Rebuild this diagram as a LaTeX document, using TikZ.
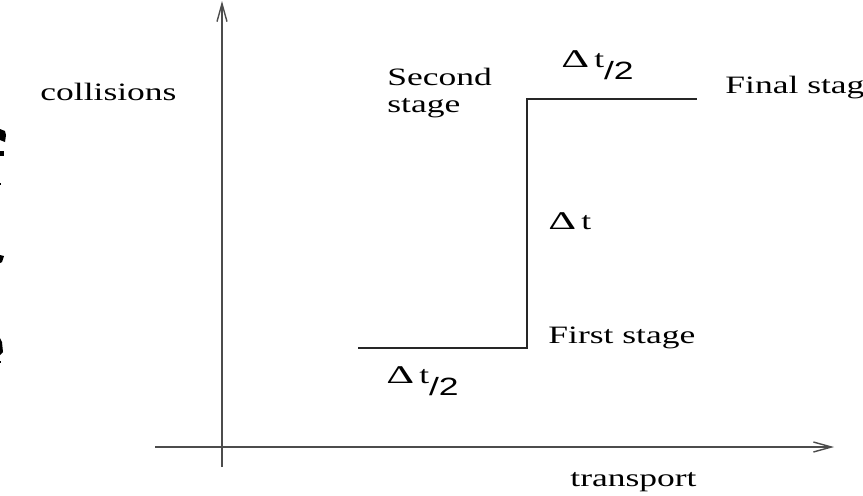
\documentclass[tikz,border=0pt]{standalone}
\usepackage{fontspec}
\setmainfont{Liberation Serif}[FakeStretch=1.42]
\newfontfamily\subsans{Liberation Sans}[FakeStretch=1.42]
\usetikzlibrary{arrows.meta}
\begin{document}
\begin{tikzpicture}[x=0.5pt,y=-0.5pt,
  lbl/.style={anchor=base west,inner sep=0pt,font=\fontsize{12.5}{14}\selectfont},
  axis/.style={draw=black!70,line width=0.7pt,-{Straight Barb[length=9pt,width=5pt]}},
  stepline/.style={draw=black!85,line width=0.7pt},
  frag/.style={fill=black}]
\useasboundingbox (0,0) rectangle (863,495);
% axes
\coordinate (yb) at (222,467);
\coordinate (yt) at (222,1);
\coordinate (xl) at (155,447);
\coordinate (xr) at (834,447);
\draw[axis] (yb) -- (yt);
\draw[axis] (xl) -- (xr);
% staircase between the stages
\coordinate (s0) at (358,348);
\coordinate (s1) at (527,348);
\coordinate (s2) at (527,99);
\coordinate (s3) at (697,99);
\draw[stepline] (s0) -- (s1) -- (s2) -- (s3);
% labels
\newcommand\dsym{\scalebox{1.22}[1.02]{Δ}\hspace{2.5pt}t}
\newcommand\halfdt{\dsym\raisebox{-6pt}{\subsans /2}}
\node[lbl] (coll) at (40,100) {collisions};
\node[lbl] (sec) at (387,85) {Second};
\node[lbl] (stg) at (387,112) {stage};
\node[lbl] (dtt) at (561,67) {\halfdt};
\node[lbl] (fin) at (725,93) {Final stage};
\node[lbl] (dt) at (548,229) {\dsym};
\node[lbl] (first) at (548,343) {First stage};
\node[lbl] (dtb) at (386,383) {\halfdt};
\node[lbl] (tr) at (570,486) {transport};
% fragments of text cut off at the left edge
\fill[frag] (0,129) -- (5,131) -- (6,135) -- (5,142) -- (0,140) -- cycle;
\fill[frag] (0,151) rectangle (4,156);
\fill[frag] (0,183) rectangle (1,185);
\fill[frag] (0,255) -- (4,256) -- (2,262) -- (0,263) -- cycle;
\fill[frag] (0,338) -- (2,342) -- (3,352) -- (0,355) -- cycle;
\fill[frag] (0,361) rectangle (1,363);
\end{tikzpicture}
\end{document}
